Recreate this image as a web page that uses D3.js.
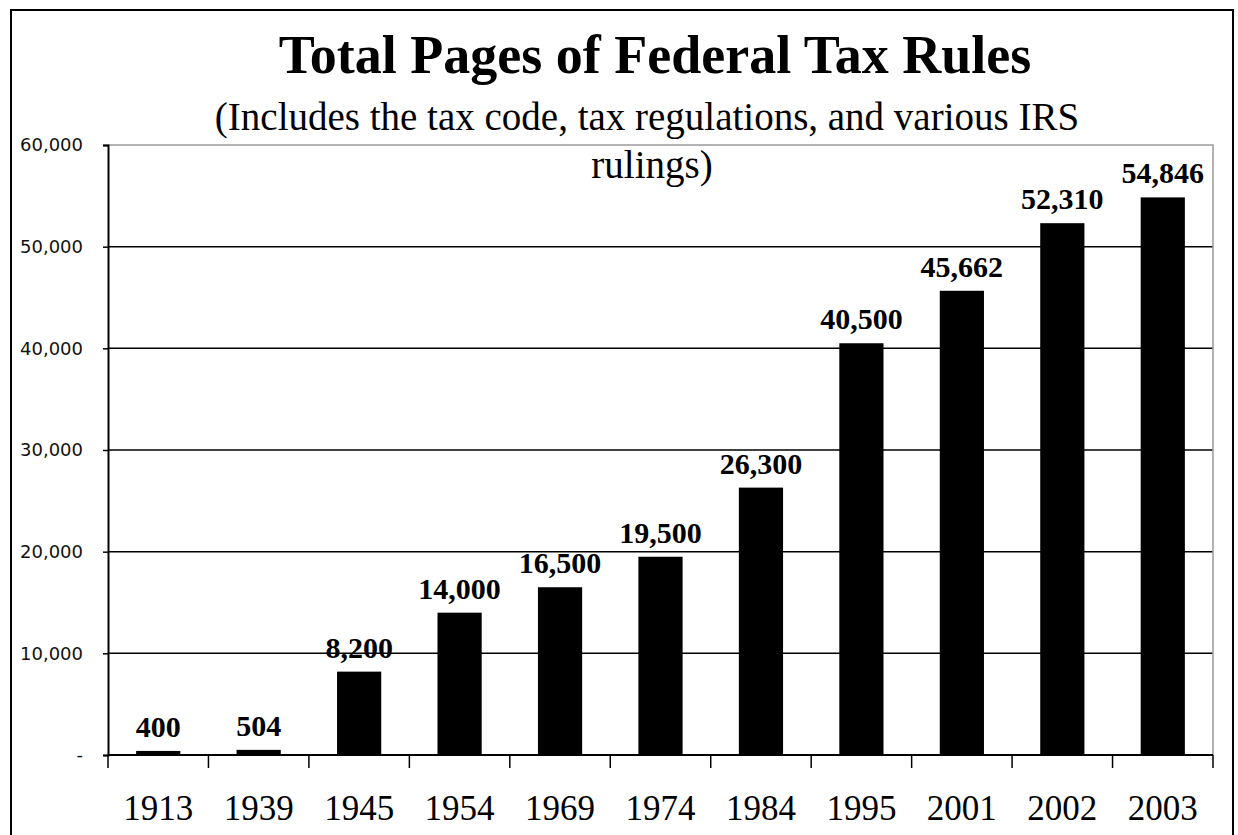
<!DOCTYPE html>
<html>
<head>
<meta charset="utf-8">
<script src="https://cdn.jsdelivr.net/npm/d3@7"></script>
<style>
  body { margin: 0; background: #fff; }
</style>
</head>
<body>
<div id="chart-area"></div>
<script>
// data
var years = ["1913", "1939", "1945", "1954", "1969", "1974", "1984", "1995", "2001", "2002", "2003"];
var pages = [400, 504, 8200, 14000, 16500, 19500, 26300, 40500, 45662, 52310, 54846];
var yTicks = [0, 10000, 20000, 30000, 40000, 50000, 60000];

var data = years.map(function(y, i) { return {year: y, pages: pages[i]}; });

var W = 1238, H = 835;
var margin = {left: 108, right: 25, top: 145, bottom: 80};
var width = W - margin.left - margin.right;
var height = H - margin.top - margin.bottom;

var svg = d3.select("#chart-area").append("svg")
    .attr("width", W)
    .attr("height", H);

// outer frame
svg.append("rect")
    .attr("x", 11).attr("y", 10)
    .attr("width", 1222).attr("height", 840)
    .attr("fill", "#fff")
    .attr("stroke", "#000")
    .attr("stroke-width", 2);

// titles
svg.append("text")
    .attr("x", 655).attr("y", 73)
    .attr("text-anchor", "middle")
    .attr("font-family", "Liberation Serif")
    .attr("font-weight", "bold")
    .attr("font-size", 54)
    .text("Total Pages of Federal Tax Rules");

svg.append("text")
    .attr("x", 647).attr("y", 130)
    .attr("text-anchor", "middle")
    .attr("font-family", "Liberation Serif")
    .attr("font-size", 39)
    .text("(Includes the tax code, tax regulations, and various IRS");

var g = svg.append("g")
    .attr("transform", "translate(" + margin.left + "," + margin.top + ")");

var x = d3.scaleBand()
    .domain(years)
    .range([0, width])
    .paddingInner(0.56)
    .paddingOuter(0.28);

var xSlot = d3.scaleBand()
    .domain(years)
    .range([0, width]);

var y = d3.scaleLinear()
    .domain([0, 60000])
    .range([height, 0]);

// gridlines
g.selectAll(".grid")
    .data(yTicks.filter(function(d) { return d > 0 && d < 60000; }))
    .enter().append("line")
    .attr("x1", 0).attr("x2", width)
    .attr("y1", function(d) { return y(d); })
    .attr("y2", function(d) { return y(d); })
    .attr("stroke", "#000")
    .attr("stroke-width", 1.5);

// plot border top/right (gray)
g.append("path")
    .attr("d", "M0," + y(60000) + "H" + width + "V" + height)
    .attr("fill", "none")
    .attr("stroke", "#9a9a9a")
    .attr("stroke-width", 1.5);

// subtitle second line sits over the plot
svg.append("text")
    .attr("x", 652).attr("y", 178)
    .attr("text-anchor", "middle")
    .attr("font-family", "Liberation Serif")
    .attr("font-size", 39)
    .text("rulings)");

// bars
g.selectAll(".bar")
    .data(data)
    .enter().append("rect")
    .attr("x", function(d) { return x(d.year); })
    .attr("width", x.bandwidth())
    .attr("y", function(d) { return y(d.pages); })
    .attr("height", function(d) { return height - y(d.pages); })
    .attr("fill", "#000");

// value labels
g.selectAll(".val")
    .data(data)
    .enter().append("text")
    .attr("x", function(d) { return x(d.year) + x.bandwidth() / 2; })
    .attr("y", function(d) { return y(d.pages) - 14; })
    .attr("text-anchor", "middle")
    .attr("font-family", "Liberation Serif")
    .attr("font-weight", "bold")
    .attr("font-size", 30)
    .text(function(d) { return d3.format(",")(d.pages); });

// y axis
var yAxis = g.append("g")
    .call(d3.axisLeft(y)
        .tickValues(yTicks)
        .tickSize(5)
        .tickPadding(20)
        .tickFormat(function(d) { return d === 0 ? "-" : d3.format(",")(d); }));
yAxis.select(".domain").attr("stroke", "#000").attr("stroke-width", 2);
yAxis.selectAll(".tick line").attr("stroke", "#000").attr("stroke-width", 1.5);
yAxis.selectAll("text")
    .attr("font-family", "DejaVu Sans")
    .attr("font-size", 18)
    .attr("fill", "#111");

// x axis: ticks between categories
var xAxis = g.append("g")
    .attr("transform", "translate(0," + height + ")");
xAxis.append("line")
    .attr("x1", 0).attr("x2", width)
    .attr("stroke", "#000").attr("stroke-width", 2);
xAxis.selectAll(".xtick")
    .data(years.concat(["end"]))
    .enter().append("line")
    .attr("x1", function(d, i) { return i < years.length ? xSlot(d) : width; })
    .attr("x2", function(d, i) { return i < years.length ? xSlot(d) : width; })
    .attr("y1", 0).attr("y2", 13)
    .attr("stroke", "#000").attr("stroke-width", 1.5);
xAxis.selectAll(".xlab")
    .data(years)
    .enter().append("text")
    .attr("x", function(d) { return xSlot(d) + xSlot.bandwidth() / 2; })
    .attr("y", 65)
    .attr("text-anchor", "middle")
    .attr("font-family", "Liberation Serif")
    .attr("font-size", 35)
    .text(function(d) { return d; });
</script>
</body>
</html>
